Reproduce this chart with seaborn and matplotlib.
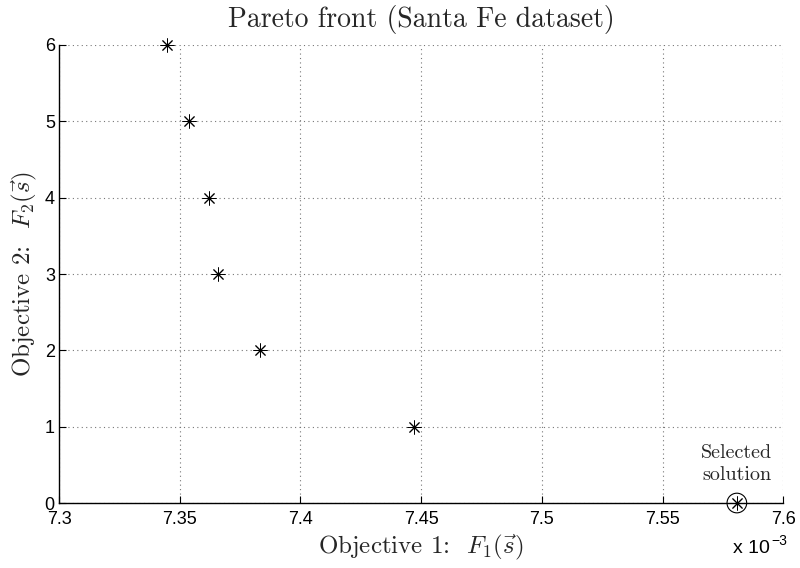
import matplotlib
matplotlib.use("Agg")
import matplotlib.pyplot as plt
import seaborn as sns
import numpy as np
from matplotlib.ticker import FuncFormatter

# Data (F1 in units of 1e-3)
f1_values = [7.3449, 7.3539, 7.3623, 7.3659, 7.3834, 7.4471, 7.5808]
f2_values = [6, 5, 4, 3, 2, 1, 0]
selected_f1 = [7.5808]
selected_f2 = [0]
x_ticks = [7.3, 7.35, 7.4, 7.45, 7.5, 7.55, 7.6]
y_ticks = [0, 1, 2, 3, 4, 5, 6]

sns.set_theme(style="white")
plt.rcParams["font.family"] = ["Liberation Sans", "DejaVu Sans"]
plt.rcParams["mathtext.fontset"] = "cm"
plt.rcParams["axes.formatter.use_mathtext"] = True

fig = plt.figure(figsize=(8.0, 5.68), dpi=100)
ax = fig.add_axes([0.0738, 0.1144, 0.9052, 0.8064])

serif = ["cmr10", "DejaVu Serif"]

asterisk = (8, 2, 0)
sns.scatterplot(x=f1_values, y=f2_values, marker=asterisk, color="black",
                s=90, linewidth=0.7, ax=ax, clip_on=False, zorder=3)
sns.scatterplot(x=selected_f1, y=selected_f2, marker="o", facecolor="none",
                edgecolor="black", s=200, linewidth=0.8, ax=ax, clip_on=False, zorder=4)

ax.set_xlim(7.3, 7.6)
ax.set_ylim(0, 6)
ax.set_xticks(x_ticks)
ax.set_yticks(y_ticks)
ax.xaxis.set_major_formatter(FuncFormatter(lambda v, p: f"{v:g}"))
ax.yaxis.set_major_formatter(FuncFormatter(lambda v, p: f"{v:g}"))

ax.grid(True, linestyle=(0, (1, 3)), color="#777777", linewidth=0.8)
for side in ["top", "right"]:
    ax.spines[side].set_visible(False)
for side in ["left", "bottom"]:
    ax.spines[side].set_color("black")
    ax.spines[side].set_linewidth(1.0)

ax.tick_params(axis="both", which="major", direction="in", length=5, width=0.8,
               colors="black", labelsize=13, left=True, bottom=True)
ax.tick_params(axis="x", pad=6)
ax.tick_params(axis="y", pad=3)

ax.set_title("Pareto front (Santa Fe dataset)", fontsize=20, family=serif, pad=13)
ax.set_xlabel(r"Objective 1:  $F_1(\vec{s})$", fontsize=18, family=serif, labelpad=3)
ax.set_ylabel(r"Objective 2:  $F_2(\vec{s})$", fontsize=18, family=serif, labelpad=4)

ax.annotate("Selected\nsolution", xy=(selected_f1[0], selected_f2[0]), xytext=(0, 14),
            textcoords="offset points", ha="center", va="bottom", fontsize=14.5,
            family=serif, linespacing=1.25, annotation_clip=False)

ax.text(0.982, -0.1, "x 10", transform=ax.transAxes, ha="right", va="center",
        fontsize=14, color="black")
ax.text(0.984, -0.082, "\u22123", transform=ax.transAxes, ha="left", va="center",
        fontsize=10, color="black")

fig.savefig("out.png", dpi=100)
